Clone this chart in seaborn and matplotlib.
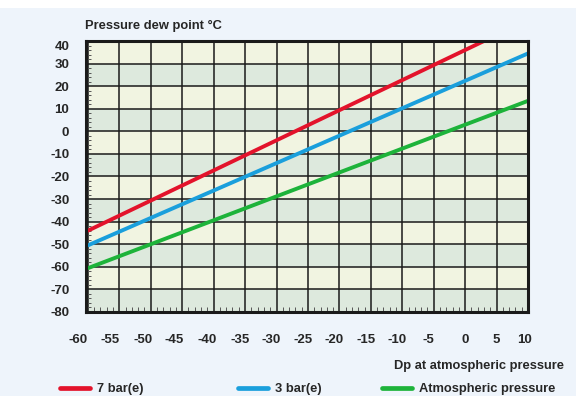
import matplotlib
matplotlib.use('Agg')
import matplotlib.pyplot as plt
import matplotlib.transforms as mtransforms
from matplotlib.patches import Rectangle
from matplotlib.ticker import MultipleLocator
import pandas as pd
import seaborn as sns

# values
series_names = ['7 bar(e)', '3 bar(e)', 'Atmospheric pressure']
red_x = [-60, -25, 3]
red_y = [-44, 2.7, 40]
blue_x = [-60, -25, 10]
blue_y = [-50.5, -8, 34.5]
green_x = [-60, -25, 10]
green_y = [-60.6, -23.5, 13.5]
x_ticks = [-60, -55, -50, -45, -40, -35, -30, -25, -20, -15, -10, -5, 0, 5, 10]
y_ticks = [-80, -70, -60, -50, -40, -30, -20, -10, 0, 10, 20, 30, 40]

colors = ['#e3132b', '#1a9fdc', '#1db33a']

df = pd.concat([
    pd.DataFrame({'dp_atm': red_x, 'pdp': red_y, 'series': series_names[0]}),
    pd.DataFrame({'dp_atm': blue_x, 'pdp': blue_y, 'series': series_names[1]}),
    pd.DataFrame({'dp_atm': green_x, 'pdp': green_y, 'series': series_names[2]}),
])

# ===
# plot
# ===

sns.set_style('ticks')
plt.rcParams['font.family'] = ['Liberation Sans', 'DejaVu Sans']
plt.rcParams['font.weight'] = 'bold'
plt.rcParams['axes.unicode_minus'] = False

fig = plt.figure(figsize=(5.76, 3.96), dpi=100)
fig.patch.set_facecolor('#eef4fb')
fig.add_artist(Rectangle((0, 1 - 8 / 396), 1, 8 / 396, transform=fig.transFigure,
                         facecolor='white', edgecolor='none', zorder=0))
ax = fig.add_axes([86 / 576, 1 - 312 / 396, 442 / 576, 271 / 396])

# alternating row bands
for i, lo in enumerate(y_ticks[:-1]):
    c = '#dde9dd' if i % 2 == 0 else '#f1f4e1'
    ax.axhspan(lo, lo + 10, color=c, lw=0, zorder=0)

sns.lineplot(data=df, x='dp_atm', y='pdp', hue='series', palette=colors,
             linewidth=2.8, legend=False, ax=ax, zorder=3)

ax.set_xlim(-60.3, 10)
ax.set_ylim(-80, 40)
ax.set_xticks(x_ticks)
ax.set_yticks(y_ticks)
ax.xaxis.set_minor_locator(MultipleLocator(1))
ax.yaxis.set_minor_locator(MultipleLocator(2))
ax.grid(True, which='major', color='#1a1a1a', lw=1.1, zorder=1)
ax.set_axisbelow(False)
ax.tick_params(which='major', length=0, labelsize=9.5)
ax.tick_params(axis='y', which='major', pad=12)
ax.tick_params(axis='x', which='major', pad=15.5)
ax.tick_params(which='minor', direction='in', length=3.5, width=0.7, color='#555555',
               top=False, right=False)
ax.set_xlabel('')
ax.set_ylabel('')
for s in ax.spines.values():
    s.set_linewidth(2.2)
    s.set_color('#1a1a1a')
    s.set_zorder(4)

# nudge tick labels like the original
ylabels = ax.get_yticklabels()
ylabels[-1].set_va('top')
x_shift = {-60: -10, -55: -9, -50: -8, -45: -8, -40: -7, 0: 0, 5: 0, 10: -4}
for lab, v in zip(ax.get_xticklabels(), x_ticks):
    dx = x_shift.get(v, -5)
    lab.set_transform(lab.get_transform() +
                      mtransforms.ScaledTranslation(dx / 100, 0, fig.dpi_scale_trans))

fig.text(85 / 576, 1 - 26 / 396, 'Pressure dew point °C', ha='left', va='center',
         fontsize=9.3, fontweight='bold')
fig.text(564 / 576, 1 - 366 / 396, 'Dp at atmospheric pressure', ha='right', va='center',
         fontsize=9.3, fontweight='bold')

handles = ax.get_lines()[:3]
legend_x = [60, 238, 382]
for h, name, lx in zip(handles, series_names, legend_x):
    leg = fig.legend([plt.Line2D([], [], color=h.get_color(), lw=3.4)], [name],
                     loc='center left', bbox_to_anchor=(lx / 576, 1 - 389 / 396),
                     frameon=False, handlelength=2.3, handletextpad=0.55,
                     borderpad=0, borderaxespad=0,
                     prop={'weight': 'bold', 'size': 9.3})

fig.savefig('out.png', dpi=100, facecolor=fig.get_facecolor())
